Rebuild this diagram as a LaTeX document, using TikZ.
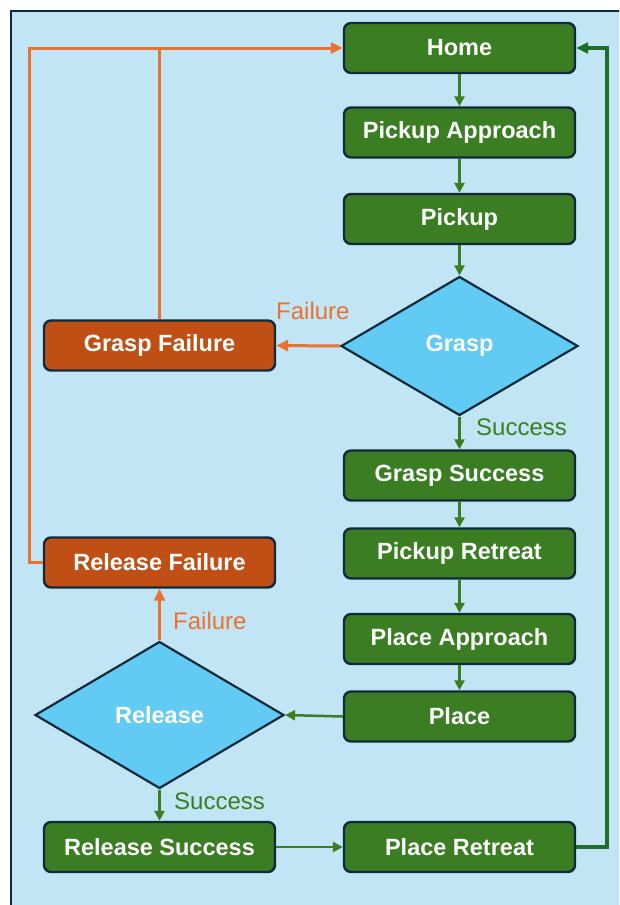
\documentclass[tikz,border=0pt]{standalone}
\usepackage{fontspec}
\setmainfont{Liberation Sans}
\usetikzlibrary{shapes.geometric,arrows.meta}
\definecolor{bgblue}{HTML}{C2E5F5}
\definecolor{framec}{HTML}{0E2A3B}
\definecolor{boxgreen}{HTML}{3B7D23}
\definecolor{boxorange}{HTML}{C04F15}
\definecolor{diacyan}{HTML}{61CBF3}
\definecolor{linorange}{HTML}{E97132}
\definecolor{lingreen}{HTML}{3B7D23}
\definecolor{retgreen}{HTML}{1F6E2A}
\tikzset{
  stepbox/.style={draw=framec, line width=2.4pt, rounded corners=7pt, fill=boxgreen,
    minimum width=231pt, minimum height=50pt, inner sep=0pt,
    text=white, font=\bfseries\fontsize{23.5}{26}\selectfont},
  failbox/.style={stepbox, fill=boxorange},
  decbox/.style={diamond, draw=framec, line width=2.2pt, fill=diacyan, inner sep=0pt,
    text=white, font=\bfseries\fontsize{23.5}{26}\selectfont},
  garrow/.style={draw=lingreen, line width=2.5pt, -{Triangle[length=10pt,width=10pt]}},
  oarrow/.style={draw=linorange, line width=3pt, -{Triangle[length=12pt,width=11pt]}},
  oline/.style={draw=linorange, line width=3pt},
  rarrow/.style={draw=retgreen, line width=3.2pt, -{Triangle[length=12pt,width=11pt]}},
  glabel/.style={text=lingreen, font=\fontsize{24}{27}\selectfont, inner sep=0pt},
  olabel/.style={text=linorange, font=\fontsize{24}{27}\selectfont, inner sep=0pt},
}
\begin{document}
\begin{tikzpicture}[x=1pt,y=-1pt]
\useasboundingbox (0,0) rectangle (619,905);
\begin{scope}
\clip (0,0) rectangle (619,905);
\draw[draw=framec, line width=2.4pt, fill=bgblue] (11,11) rectangle (640,930);
\end{scope}
% right column
\node[stepbox] (home) at (459.5,48) {Home};
\node[stepbox] (pa) at (459.5,132.5) {Pickup Approach};
\node[stepbox] (pu) at (459.5,219) {Pickup};
\node[decbox, minimum width=237pt, minimum height=139pt] (grasp) at (459.5,346) {Grasp};
\node[stepbox] (gs) at (459.5,475.5) {Grasp Success};
\node[stepbox] (pr) at (459.5,553.5) {Pickup Retreat};
\node[stepbox] (pla) at (459.5,639) {Place Approach};
\node[stepbox] (pl) at (459.5,716.5) {Place};
\node[stepbox] (plr) at (459.5,847) {Place Retreat};
% left column
\node[failbox] (gf) at (159.5,345.5) {Grasp Failure};
\node[failbox] (rf) at (159.5,562.5) {Release Failure};
\node[decbox, minimum width=249pt, minimum height=147pt] (rel) at (159.5,715) {Release};
\node[stepbox] (rs) at (159.5,847) {Release Success};
% coordinates for loops
\coordinate (topleft) at (29,48);
\coordinate (botleft) at (29,562.5);
\coordinate (topmid) at (159.5,48);
\coordinate (rtop) at (607,48);
\coordinate (rbot) at (607,847);
% green flow
\draw[garrow] (home) -- (pa);
\draw[garrow] (pa) -- (pu);
\draw[garrow] (pu) -- (grasp.north);
\draw[garrow] (grasp.south) -- (gs);
\draw[garrow] (gs) -- (pr);
\draw[garrow] (pr) -- (pla);
\draw[garrow] (pla) -- (pl);
\draw[garrow] (pl.west) -- (rel.east);
\draw[garrow] (rel.south) -- (rs);
\draw[garrow] (rs) -- (plr);
\draw[rarrow] (plr.east) -- (rbot) -- (rtop) -- (home.east);
% orange flow
\draw[oarrow] (grasp.west) -- (gf.east);
\draw[oarrow] (rel.north) -- (rf.south);
\draw[oline] (gf.north) -- (topmid);
\draw[oarrow] (rf.west) -- (botleft) -- (topleft) -- (home.west);
% labels
\node[olabel, anchor=base west] (lf1) at (276,319) {Failure};
\node[glabel, anchor=base west] (ls1) at (476,435) {Success};
\node[olabel, anchor=base west] (lf2) at (173,629) {Failure};
\node[glabel, anchor=base west] (ls2) at (174,809) {Success};
\end{tikzpicture}
\end{document}
